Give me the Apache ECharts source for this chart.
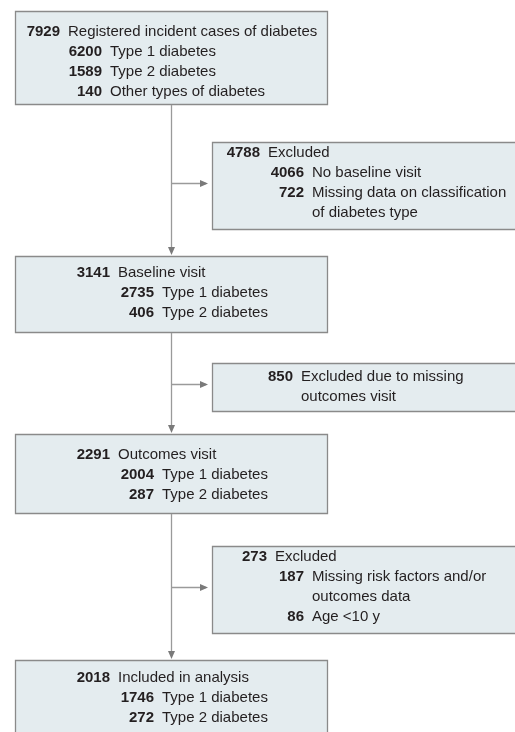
<!DOCTYPE html>
<html>
<head>
<meta charset="utf-8">
<script src="https://cdn.jsdelivr.net/npm/echarts@6/dist/echarts.min.js"></script>
<style>html,body{margin:0;padding:0;background:#fff;}#c{width:515px;height:732px;}</style>
</head>
<body>
<div id="c"></div>
<script>
// ---- data ----
const boxTotals = [7929, 4788, 3141, 850, 2291, 273, 2018];
const boxTitles = [
  'Registered incident cases of diabetes',
  'Excluded',
  'Baseline visit',
  'Excluded due to missing\noutcomes visit',
  'Outcomes visit',
  'Excluded',
  'Included in analysis'
];
const subCounts = [
  [6200, 1589, 140],
  [4066, 722],
  [2735, 406],
  [],
  [2004, 287],
  [187, 86],
  [1746, 272]
];
const subLabels = [
  ['Type 1 diabetes', 'Type 2 diabetes', 'Other types of diabetes'],
  ['No baseline visit', 'Missing data on classification\nof diabetes type'],
  ['Type 1 diabetes', 'Type 2 diabetes'],
  [],
  ['Type 1 diabetes', 'Type 2 diabetes'],
  ['Missing risk factors and/or\noutcomes data', 'Age <10 y'],
  ['Type 1 diabetes', 'Type 2 diabetes']
];

// ---- layout ----
const FONT = '"Liberation Sans Narrow", "Arial Narrow", sans-serif';
const FS = 15, LH = 20;
const FILL = '#e4ecef', STROKE = '#8a8a8a', LINE = '#9a9a9a', TXT = '#231f20';
const layout = [
  {x:15,  y:11,  w:312, h:93, numR:60,  subR:102, top:32},
  {x:212, y:142, w:320, h:87, numR:260, subR:304, top:153},
  {x:15,  y:256, w:312, h:76, numR:110, subR:154, top:273},
  {x:212, y:363, w:320, h:48, numR:293, subR:293, top:377},
  {x:15,  y:434, w:312, h:79, numR:110, subR:154, top:455},
  {x:212, y:546, w:320, h:87, numR:267, subR:304, top:557},
  {x:15,  y:660, w:312, h:90, numR:110, subR:154, top:678}
];

const g = [];
function txt(x, y, s, bold, align) {
  g.push({type:'text', x:x, y:y, style:{text:s, fill:TXT, font:(bold?'bold ':'')+FS+'px '+FONT,
    textAlign:align, textVerticalAlign:'middle', lineHeight:LH}});
}
layout.forEach((b, i) => {
  g.push({type:'rect', shape:{x:b.x+0.5, y:b.y+0.5, width:b.w, height:b.h},
    style:{fill:FILL, stroke:STROKE, lineWidth:1.3}});
  let y = b.top;
  const titleLines = boxTitles[i].split('\n');
  txt(b.numR, y, String(boxTotals[i]), true, 'right');
  titleLines.forEach((t, k) => txt(b.numR + 8, y + k*LH, t, false, 'left'));
  y += titleLines.length * LH;
  subCounts[i].forEach((c, j) => {
    const lines = subLabels[i][j].split('\n');
    txt(b.subR, y, String(c), true, 'right');
    lines.forEach((t, k) => txt(b.subR + 8, y + k*LH, t, false, 'left'));
    y += lines.length * LH;
  });
});

// connectors
const cx = 171.5;
function vArrow(y1, y2) {
  g.push({type:'line', shape:{x1:cx, y1:y1, x2:cx, y2:y2-6}, style:{stroke:LINE, lineWidth:1.3}});
  g.push({type:'polygon', shape:{points:[[cx-3.5,y2-9],[cx+3.5,y2-9],[cx,y2-1]]}, style:{fill:'#7a7a7a'}});
}
function hArrow(y, x2) {
  g.push({type:'line', shape:{x1:cx, y1:y, x2:x2-6, y2:y}, style:{stroke:LINE, lineWidth:1.3}});
  g.push({type:'polygon', shape:{points:[[x2-12,y-3.5],[x2-12,y+3.5],[x2-4,y]]}, style:{fill:'#7a7a7a'}});
}
vArrow(105, 256); hArrow(183.5, 212);
vArrow(333, 434); hArrow(384.5, 212);
vArrow(514, 660); hArrow(587.5, 212);

const chart = echarts.init(document.getElementById('c'), null, {renderer:'canvas'});
chart.setOption({backgroundColor:'#ffffff', animation:false, graphic:{elements:g}});
</script>
</body>
</html>
